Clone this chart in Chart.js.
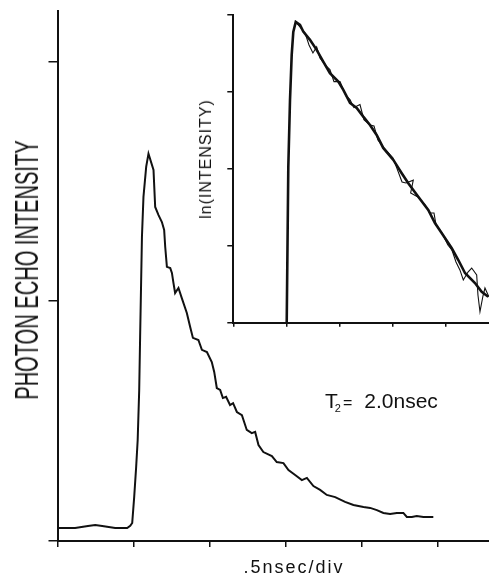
<!DOCTYPE html>
<html>
<head>
<meta charset="utf-8">
<script src="https://cdn.jsdelivr.net/npm/chart.js@4.4.1/dist/chart.umd.min.js"></script>
<style>
  html, body { margin: 0; padding: 0; background: #fff; overflow: hidden; }
  #wrap { position: relative; width: 489px; height: 575px; font-family: "Liberation Sans", Arial, sans-serif; color: #111; }
  canvas { position: absolute; }
  #main { left: 0; top: 0; }
  #inset { left: 200px; top: 0; }
  .pin { position: absolute; width: 0; height: 0; }
  .pin span.rot { position: absolute; left: 0; top: 0; white-space: nowrap; line-height: 1; }
  #ytitle span.rot { font-size: 34px; transform: translate(-50%, -50%) rotate(-90deg) scaleX(0.59); }
  #insetTitle span.rot { font-size: 16px; letter-spacing: 1px; transform: translate(-50%, -50%) rotate(-90deg); }
  #xtitle { position: absolute; left: 294px; top: 558px; transform: translateX(-50%); font-size: 18px; letter-spacing: 2px; line-height: 1; white-space: nowrap; }
  #t2 { position: absolute; left: 325px; top: 390px; font-size: 21px; line-height: 1; white-space: nowrap; }
  #t2 .sub { font-size: 11px; position: relative; top: 4px; margin-left: -3px; }
  #t2 .eq { font-size: 16px; margin-left: 2px; }
  #t2 .num { margin-left: 12px; }
</style>
</head>
<body>
<div id="wrap">
  <canvas id="main" width="489" height="575"></canvas>
  <canvas id="inset" width="289" height="340"></canvas>
  <div class="pin" id="ytitle" style="left:25.5px; top:270px;"><span class="rot">PHOTON ECHO INTENSITY</span></div>
  <div class="pin" id="insetTitle" style="left:205.5px; top:159px;"><span class="rot">ln(INTENSITY)</span></div>
  <div id="t2"><span>T</span><span class="sub">2</span><span class="eq">=</span><span class="num">2.0nsec</span></div>
  <div id="xtitle">.5nsec/div</div>
</div>
<script>
// Curva principal: tempo (ns) e intensidade do eco (unidades arbitrárias)
var tempoPrincipal = [0, 0.116, 0.20, 0.248, 0.294, 0.379, 0.458, 0.478, 0.491, 0.504,
    0.517, 0.527, 0.537, 0.543, 0.555, 0.565, 0.583, 0.598, 0.631, 0.642,
    0.664, 0.686, 0.701, 0.708, 0.719, 0.741, 0.752, 0.762, 0.773, 0.795,
    0.817, 0.850, 0.872, 0.890, 0.926, 0.949, 0.982, 1.014, 1.030, 1.047,
    1.069, 1.087, 1.108, 1.134, 1.154, 1.179, 1.212, 1.244, 1.277, 1.299,
    1.321, 1.353, 1.409, 1.441, 1.485, 1.518, 1.562, 1.606, 1.639, 1.682,
    1.726, 1.770, 1.825, 1.890, 1.945, 2.011, 2.055, 2.099, 2.142, 2.186,
    2.230, 2.273, 2.296, 2.329, 2.361, 2.405, 2.470];
var intensidadePrincipal = [0.054, 0.054, 0.063, 0.067, 0.063, 0.054, 0.054, 0.063, 0.075, 0.183,
    0.309, 0.421, 0.630, 0.851, 1.268, 1.435, 1.561, 1.615, 1.547, 1.393,
    1.359, 1.330, 1.297, 1.226, 1.143, 1.138, 1.118, 1.076, 1.034, 1.055,
    1.013, 0.951, 0.892, 0.847, 0.838, 0.797, 0.788, 0.746, 0.705, 0.638,
    0.630, 0.596, 0.601, 0.567, 0.575, 0.538, 0.525, 0.463, 0.450, 0.455,
    0.400, 0.371, 0.354, 0.329, 0.325, 0.296, 0.275, 0.254, 0.263, 0.229,
    0.213, 0.192, 0.183, 0.163, 0.150, 0.142, 0.138, 0.129, 0.117, 0.113,
    0.117, 0.117, 0.100, 0.100, 0.104, 0.100, 0.100];

// Detalhe: ln(intensidade), linha grossa (suavizada)
var tempoDetalhe = [0.503, 0.518, 0.534, 0.550, 0.565, 0.588, 0.628, 0.659, 0.722, 0.785,
    0.847, 0.910, 0.989, 1.036, 1.099, 1.162, 1.224, 1.287, 1.350, 1.412,
    1.507, 1.586, 1.648, 1.742, 1.836, 1.899, 1.962, 2.056, 2.119, 2.182,
    2.276, 2.339, 2.401];
var lnDetalhe = [0, 2.025, 2.896, 3.481, 3.780, 3.910, 3.871, 3.784, 3.677, 3.547,
    3.394, 3.243, 3.134, 3.026, 2.857, 2.792, 2.679, 2.571, 2.441, 2.272,
    2.116, 1.943, 1.813, 1.638, 1.466, 1.296, 1.166, 0.971, 0.815, 0.646,
    0.516, 0.403, 0.338];

// Detalhe: linha fina (dados com ruído)
var tempoRuido = [0.588, 0.675, 0.713, 0.750, 0.785, 0.816, 0.873, 0.910, 0.948, 1.005,
    1.061, 1.099, 1.136, 1.193, 1.230, 1.287, 1.325, 1.362, 1.419, 1.504,
    1.589, 1.626, 1.695, 1.670, 1.739, 1.805, 1.852, 1.890, 1.909, 1.965,
    2.021, 2.059, 2.097, 2.134, 2.166, 2.210, 2.245, 2.292, 2.304, 2.323,
    2.351, 2.370, 2.408];
var lnRuido = [3.910, 3.767, 3.611, 3.507, 3.585, 3.442, 3.338, 3.290, 3.134, 3.134,
    2.952, 2.900, 2.796, 2.835, 2.640, 2.571, 2.558, 2.376, 2.272, 2.142,
    1.830, 1.817, 1.853, 1.687, 1.635, 1.531, 1.427, 1.427, 1.271, 1.166,
    1.010, 0.945, 0.789, 0.686, 0.555, 0.659, 0.711, 0.620, 0.360, 0.143,
    0.347, 0.451, 0.334];

function pares(xs, ys) {
    return xs.map(function (x, i) { return { x: x, y: ys[i] }; });
}

// eixo só com traço e marcas, sem rótulos
function eixo(min, max, passo, tamanhoMarca, extra) {
    var e = {
        type: 'linear',
        min: min,
        max: max,
        ticks: { display: false, stepSize: passo, includeBounds: false },
        grid: { drawOnChartArea: false, drawTicks: true, tickLength: tamanhoMarca, color: '#111', lineWidth: 1.5 },
        border: { display: true, color: '#111', width: 2 },
        afterFit: function (scale) {
            if (scale.isHorizontal()) scale.height = 0; else scale.width = 0;
        }
    };
    return Object.assign(e, extra || {});
}

var opcoesBase = {
    responsive: false,
    animation: false,
    events: [],
    plugins: { legend: { display: false }, tooltip: { enabled: false } },
    elements: { point: { radius: 0 } }
};

new Chart(document.getElementById('main').getContext('2d'), {
    type: 'line',
    data: {
        datasets: [{
            data: pares(tempoPrincipal, intensidadePrincipal),
            borderColor: '#111',
            borderWidth: 2,
            fill: false
        }]
    },
    options: Object.assign({}, opcoesBase, {
        layout: { padding: { left: 57.5, top: 11, right: 0, bottom: 34 } },
        scales: {
            x: eixo(0, 2.836, 0.5, 6, { position: 'bottom' }),
            y: eixo(0, 2.21, 1, 9, { position: 'left' })
        }
    })
});

new Chart(document.getElementById('inset').getContext('2d'), {
    type: 'line',
    data: {
        datasets: [{
            data: pares(tempoDetalhe, lnDetalhe),
            borderColor: '#111',
            borderWidth: 2.6,
            fill: false
        }, {
            data: pares(tempoRuido, lnRuido),
            borderColor: '#111',
            borderWidth: 1.1,
            fill: false
        }]
    },
    options: Object.assign({}, opcoesBase, {
        layout: { padding: { left: 33.3, top: 15, right: 0, bottom: 17.3 } },
        scales: {
            x: eixo(0, 2.408, 0.5, 4, { position: 'bottom' }),
            y: eixo(0, 4, 1, 6, { position: 'left' })
        }
    })
});
</script>
</body>
</html>
